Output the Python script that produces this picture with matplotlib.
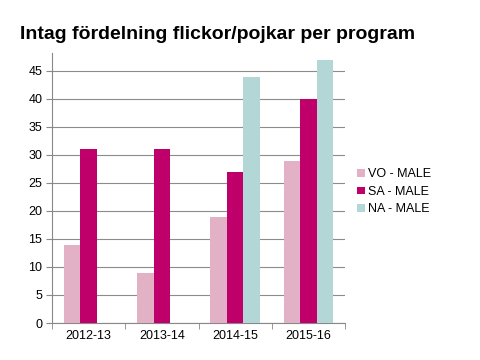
import matplotlib
matplotlib.use("Agg")
import matplotlib.pyplot as plt
import numpy as np

plt.rcParams["font.family"] = ["Liberation Sans", "DejaVu Sans"]

# === Data ===
categories = ["2012-13", "2013-14", "2014-15", "2015-16"]
series_names = ["VO - MALE", "SA - MALE", "NA - MALE"]
vo_male = [14, 9, 19, 29]
sa_male = [31, 31, 27, 40]
na_male = [0, 0, 44, 47]
colors = ["#E3B1C5", "#C0006A", "#B3D6D6"]

# === Plot ===
fig = plt.figure(figsize=(4.8, 3.6), dpi=100)
ax = fig.add_axes([52 / 480, 1 - 323 / 360, (345 - 52) / 480, (323 - 53) / 360])

x = np.arange(len(categories))
bar_w = 0.225
for i, (vals, name, col) in enumerate(zip([vo_male, sa_male, na_male], series_names, colors)):
    ax.bar(x + (i - 1) * bar_w, vals, width=bar_w, color=col, label=name, zorder=3)

ax.set_xlim(-0.5, len(categories) - 0.5)
ax.set_ylim(0, 48.2)
ax.set_yticks(np.arange(0, 50, 5))
ax.set_xticks(x)
ax.set_xticklabels(categories)
ax.set_xticks(np.arange(-0.5, len(categories), 1), minor=True)
ax.tick_params(axis="x", which="major", length=0, labelsize=9, pad=5)
ax.tick_params(axis="x", which="minor", length=4, color="#888888")
ax.tick_params(axis="y", length=4, color="#888888", labelsize=9, pad=3)
ax.yaxis.grid(True, color="#8c8c8c", linewidth=0.8, zorder=0)
ax.spines["top"].set_visible(False)
ax.spines["right"].set_visible(False)
ax.spines["left"].set_color("#888888")
ax.spines["bottom"].set_color("#888888")

fig.text(20 / 480, 1 - 39 / 360, "Intag fördelning flickor/pojkar per program",
         fontsize=14, fontweight="bold", ha="left", va="baseline")

leg = fig.legend(loc="upper left", bbox_to_anchor=(346 / 480, 1 - 157 / 360),
                 frameon=False, fontsize=9, handlelength=0.6, handleheight=0.6,
                 handletextpad=0.3, labelspacing=0.45)

fig.savefig("out.png", dpi=100)
